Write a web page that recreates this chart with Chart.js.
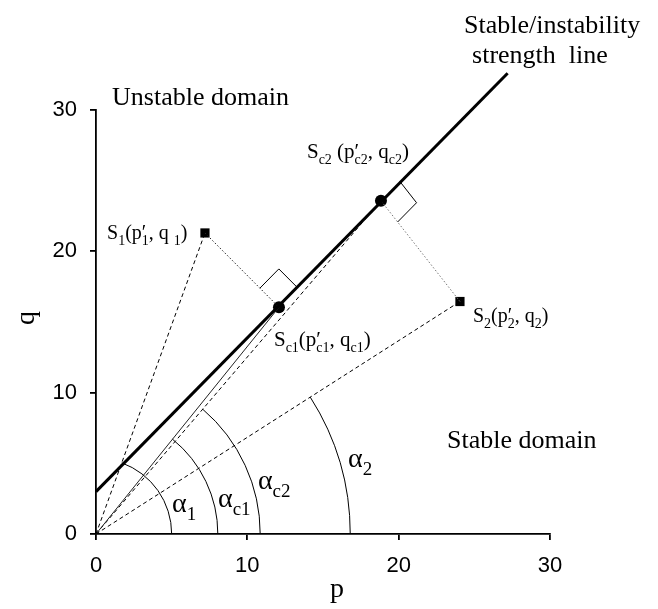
<!DOCTYPE html>
<html>
<head>
<meta charset="utf-8">
<script src="https://cdn.jsdelivr.net/npm/chart.js@4.4.0/dist/chart.umd.min.js"></script>
<style>
  html, body { margin: 0; padding: 0; background: #fff; }
  canvas { display: block; }
</style>
</head>
<body>
<canvas id="chart" width="658" height="609"></canvas>
<script>
// Stable/instability strength line, given by its two end points (p, q)
const strengthP = [0, 27.2];
const strengthQ = [3, 32.6];

// Stress states S1 and S2
const stateP = [7.2, 24.05];
const stateQ = [21.3, 16.45];

// Critical states Sc1 and Sc2 on the strength line
const critP = [12.09, 18.83];
const critQ = [16.04, 23.58];

// Radii (p units) of the angle arcs α1, αc1, αc2, α2
const arcRadius = [5.0, 8.05, 10.85, 16.8];

// Axis ticks
const tickValues = [0, 10, 20, 30];

const SERIF = '"Liberation Serif", "Times New Roman", serif';
const SANS = '"Liberation Sans", Arial, sans-serif';

const pt = (p, q) => ({ x: p, y: q });
const O = pt(0, 0);
const S1 = pt(stateP[0], stateQ[0]);
const S2 = pt(stateP[1], stateQ[1]);
const Sc1 = pt(critP[0], critQ[0]);
const Sc2 = pt(critP[1], critQ[1]);

function segment(a, b, dash, width, color) {
  return {
    type: 'scatter',
    data: [a, b],
    showLine: true,
    borderColor: color || '#000',
    borderWidth: width || 1,
    borderDash: dash || [],
    pointRadius: 0,
    fill: false
  };
}

// Arcs: radius and the ray they close on
const arcs = [
  { r: arcRadius[0], to: S1 },
  { r: arcRadius[1], to: Sc1 },
  { r: arcRadius[2], to: Sc2 },
  { r: arcRadius[3], to: S2 }
];

// Right-angle marks at the critical points, opening toward the stress state
const rightAngles = [
  { at: Sc1, toward: S1 },
  { at: Sc2, toward: S2 }
];

// Text annotations: anchor (p, q) at the left end of the baseline
const notes = [
  { p: 1.06, q: 30.35, size: 26, parts: [['Unstable domain']] },
  { p: 24.32, q: 35.45, size: 26, parts: [['Stable/instability']] },
  { p: 24.85, q: 33.33, size: 26, parts: [['strength  line']] },
  { p: 23.19, q: 6.09, size: 26, parts: [['Stable domain']] },
  { p: 0.73, q: 20.87, size: 20, parts: [['S'], ['1', 's'], ['(p'], ['1', 'ps'], [', q '], ['1', 's'], [')']] },
  { p: 13.94, q: 26.6, size: 21, parts: [['S'], ['c2', 's'], [' (p'], ['c2', 'ps'], [', q'], ['c2', 's'], [')']] },
  { p: 11.76, q: 13.3, size: 21, parts: [['S'], ['c1', 's'], ['(p'], ['c1', 'ps'], [', q'], ['c1', 's'], [')']] },
  { p: 24.91, q: 15.0, size: 20, parts: [['S'], ['2', 's'], ['(p'], ['2', 'ps'], [', q'], ['2', 's'], [')']] },
  { p: 5.02, q: 1.56, size: 28, parts: [['α'], ['1', 's']] },
  { p: 8.06, q: 1.91, size: 28, parts: [['α'], ['c1', 's']] },
  { p: 10.7, q: 3.18, size: 28, parts: [['α'], ['c2', 's']] },
  { p: 16.65, q: 4.74, size: 28, parts: [['α'], ['2', 's']] }
];

function drawRich(ctx, x, y, size, parts) {
  const subSize = Math.round(size * 0.68);
  const subDrop = size * 0.28;
  ctx.textBaseline = 'alphabetic';
  ctx.textAlign = 'left';
  ctx.fillStyle = '#000';
  let cx = x;
  for (const [text, kind] of parts) {
    if (kind === 's') {
      ctx.font = subSize + 'px ' + SERIF;
      ctx.fillText(text, cx, y + subDrop);
      cx += ctx.measureText(text).width;
    } else if (kind === 'ps') {
      // prime above a subscript
      ctx.font = size + 'px ' + SERIF;
      ctx.fillText('′', cx, y);
      const pw = ctx.measureText('′').width;
      ctx.font = subSize + 'px ' + SERIF;
      ctx.fillText(text, cx, y + subDrop);
      cx += Math.max(pw, ctx.measureText(text).width);
    } else {
      ctx.font = size + 'px ' + SERIF;
      ctx.fillText(text, cx, y);
      cx += ctx.measureText(text).width;
    }
  }
}

const decorations = {
  id: 'decorations',
  afterDatasetsDraw(chart) {
    const ctx = chart.ctx;
    const xs = chart.scales.x, ys = chart.scales.y;
    const px = v => xs.getPixelForValue(v);
    const py = v => ys.getPixelForValue(v);
    const ox = px(0), oy = py(0);

    ctx.save();
    ctx.strokeStyle = '#000';
    ctx.lineWidth = 1;
    ctx.setLineDash([]);

    // angle arcs from the p axis up to each ray
    for (const a of arcs) {
      const rPix = px(a.r) - ox;
      const end = Math.atan2(py(a.to.y) - oy, px(a.to.x) - ox);
      ctx.beginPath();
      ctx.arc(ox, oy, rPix, end, 0);
      ctx.stroke();
    }

    // right-angle marks
    const lx = px(strengthP[1]) - px(strengthP[0]);
    const ly = py(strengthQ[1]) - py(strengthQ[0]);
    const ll = Math.hypot(lx, ly);
    const ux = lx / ll, uy = ly / ll;
    const s = 27;
    for (const m of rightAngles) {
      const cx = px(m.at.x), cy = py(m.at.y);
      let vx = px(m.toward.x) - cx, vy = py(m.toward.y) - cy;
      const vl = Math.hypot(vx, vy);
      vx /= vl; vy /= vl;
      ctx.beginPath();
      ctx.moveTo(cx + ux * s, cy + uy * s);
      ctx.lineTo(cx + ux * s + vx * s, cy + uy * s + vy * s);
      ctx.lineTo(cx + vx * s, cy + vy * s);
      ctx.stroke();
    }
    ctx.restore();
  },
  afterDraw(chart) {
    const ctx = chart.ctx;
    const xs = chart.scales.x, ys = chart.scales.y;
    ctx.save();
    for (const n of notes) {
      drawRich(ctx, xs.getPixelForValue(n.p), ys.getPixelForValue(n.q), n.size, n.parts);
    }
    // axis titles
    ctx.fillStyle = '#000';
    ctx.font = '28px ' + SERIF;
    ctx.textAlign = 'center';
    ctx.textBaseline = 'middle';
    ctx.fillText('p', 337, 590);
    ctx.save();
    ctx.translate(27, 318);
    ctx.rotate(-Math.PI / 2);
    ctx.fillText('q', 0, 0);
    ctx.restore();
    ctx.restore();
  }
};

const axisCommon = {
  type: 'linear',
  min: 0,
  max: 30,
  afterBuildTicks: s => { s.ticks = tickValues.map(v => ({ value: v })); },
  grid: { display: true, drawOnChartArea: false, drawTicks: true, tickLength: 6, color: '#000', lineWidth: 1.8 },
  border: { display: true, color: '#000', width: 1.8 },
  ticks: { color: '#000', font: { family: SANS, size: 22 }, padding: 13 },
  title: { display: false }
};

new Chart(document.getElementById('chart'), {
  type: 'scatter',
  data: {
    datasets: [
      Object.assign(segment(pt(strengthP[0], strengthQ[0]), pt(strengthP[1], strengthQ[1]), [], 3), { clip: false }),
      segment(O, S1, [4, 3], 1),
      segment(O, Sc1, [], 1, '#222'),
      segment(O, Sc2, [4, 3], 1),
      segment(O, S2, [4, 3], 1),
      segment(S1, Sc1, [1.5, 2], 1, '#222'),
      segment(S2, Sc2, [1.5, 2], 1, '#777'),
      {
        type: 'scatter',
        data: [S1, S2],
        pointStyle: 'rect',
        pointRadius: 6.5,
        backgroundColor: '#000',
        borderColor: '#000',
        borderWidth: 0
      },
      {
        type: 'scatter',
        data: [Sc1, Sc2],
        pointStyle: 'circle',
        pointRadius: 6,
        backgroundColor: '#000',
        borderColor: '#000',
        borderWidth: 0
      }
    ]
  },
  options: {
    responsive: false,
    animation: false,
    devicePixelRatio: 1,
    events: [],
    layout: { padding: { top: 110, right: 108, left: 0, bottom: 0 } },
    plugins: { legend: { display: false }, tooltip: { enabled: false } },
    scales: {
      x: Object.assign({}, axisCommon, { position: 'bottom', afterFit: s => { s.height = 75; } }),
      y: Object.assign({}, axisCommon, { position: 'left', afterFit: s => { s.width = 96; } })
    }
  },
  plugins: [decorations]
});
</script>
</body>
</html>
